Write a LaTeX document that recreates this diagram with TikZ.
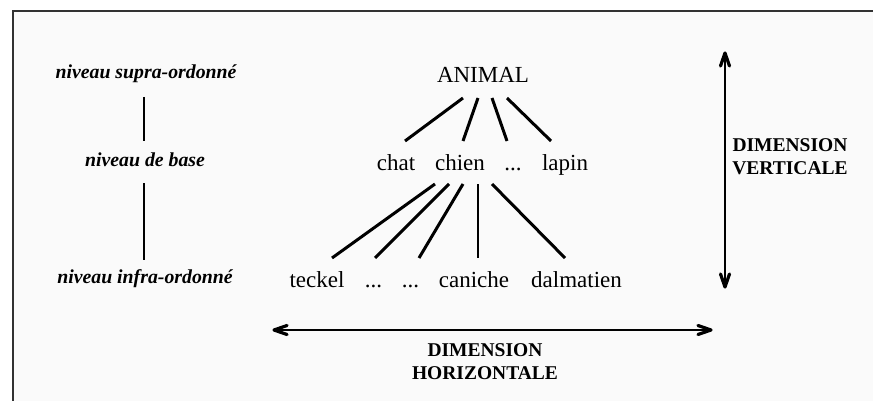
\documentclass[tikz,border=0pt]{standalone}
\usepackage{fontspec}
\setmainfont{Liberation Serif}
\usetikzlibrary{calc}
\definecolor{framegray}{RGB}{50,50,50}
\definecolor{bggray}{RGB}{250,250,250}
\tikzset{
  word/.style={anchor=base, inner sep=0pt, font=\fontsize{23}{27}\selectfont},
  level/.style={anchor=base, inner sep=0pt, font=\fontsize{19.8}{22}\selectfont\bfseries\itshape},
  dimlabel/.style={anchor=center, inner sep=0pt, align=center, font=\fontsize{19.5}{23}\selectfont\bfseries},
  thickedge/.style={line width=3pt},
  thinedge/.style={line width=1.1pt},
  dimline/.style={line width=1.5pt},
  barbhead/.style={line width=3.2pt, line join=round, line cap=round},
}
\begin{document}
\begin{tikzpicture}[x=1pt,y=-1pt]
\useasboundingbox (0,0) rectangle (873,401);
\fill[bggray] (13,11) rectangle (873,401);
\draw[framegray, line width=2pt] (13,401) -- (13,11) -- (873,11);

% left column
\node[level] (supra) at (146,79) {niveau supra-ordonné};
\node[level] (base) at (145,167) {niveau de base};
\node[level] (infra) at (145,283) {niveau infra-ordonné};
\draw[thinedge] ($(supra.base)+(-2,18)$) -- ($(base.base)+(-1,-26)$);
\draw[thinedge] ($(base.base)+(-1,16)$) -- ($(infra.base)+(-1,-23)$);

% tree
\node[word] (animal) at (483,83) {ANIMAL};
\node[word] (chat) at (396,171) {chat};
\node[word] (chien) at (460,171) {chien};
\node[word] (dotsa) at (513,171) {...};
\node[word] (lapin) at (565,171) {lapin};

\node[word] (teckel) at (317,287) {teckel};
\node[word] (dotsb) at (373.5,287) {...};
\node[word] (dotsc) at (410.5,287) {...};
\node[word] (caniche) at (474,287) {caniche};
\node[word] (dalmatien) at (576.5,287) {dalmatien};

\draw[thickedge] ($(animal.base)+(-20,15)$) -- ($(chat.base)+(9,-30)$);
\draw[thickedge] ($(animal.base)+(-5,15)$) -- ($(chien.base)+(3,-30)$);
\draw[thickedge] ($(animal.base)+(9,15)$) -- ($(dotsa.base)+(-6,-30)$);
\draw[thickedge] ($(animal.base)+(24,15)$) -- ($(lapin.base)+(-14,-30)$);

\draw[thickedge] ($(chien.base)+(-25,13)$) -- ($(teckel.base)+(15,-29)$);
\draw[thickedge] ($(chien.base)+(-11,13)$) -- ($(dotsb.base)+(1.5,-29)$);
\draw[thickedge] ($(chien.base)+(3,13)$) -- ($(dotsc.base)+(8.5,-29)$);
\draw[thinedge] ($(chien.base)+(18,13)$) -- ($(caniche.base)+(4,-29)$);
\draw[thickedge] ($(chien.base)+(32,13)$) -- ($(dalmatien.base)+(-11.5,-29)$);

% vertical dimension
\coordinate (vtop) at (725,53);
\coordinate (vbot) at (725,287);
\draw[dimline] (vtop) -- (vbot);
\draw[barbhead] ($(vtop)+(-4.5,13)$) -- (vtop) -- ($(vtop)+(4.5,13)$);
\draw[barbhead] ($(vbot)+(-4.5,-13)$) -- (vbot) -- ($(vbot)+(4.5,-13)$);
\node[dimlabel] (vlabel) at (790,157) {DIMENSION\\VERTICALE};

% horizontal dimension
\coordinate (hleft) at (274,330);
\coordinate (hright) at (711,330);
\draw[dimline] (hleft) -- (hright);
\draw[barbhead] ($(hleft)+(13,-4.5)$) -- (hleft) -- ($(hleft)+(13,4.5)$);
\draw[barbhead] ($(hright)+(-13,-4.5)$) -- (hright) -- ($(hright)+(-13,4.5)$);
\node[dimlabel] (hlabel) at (485,361.5) {DIMENSION\\HORIZONTALE};
\end{tikzpicture}
\end{document}
